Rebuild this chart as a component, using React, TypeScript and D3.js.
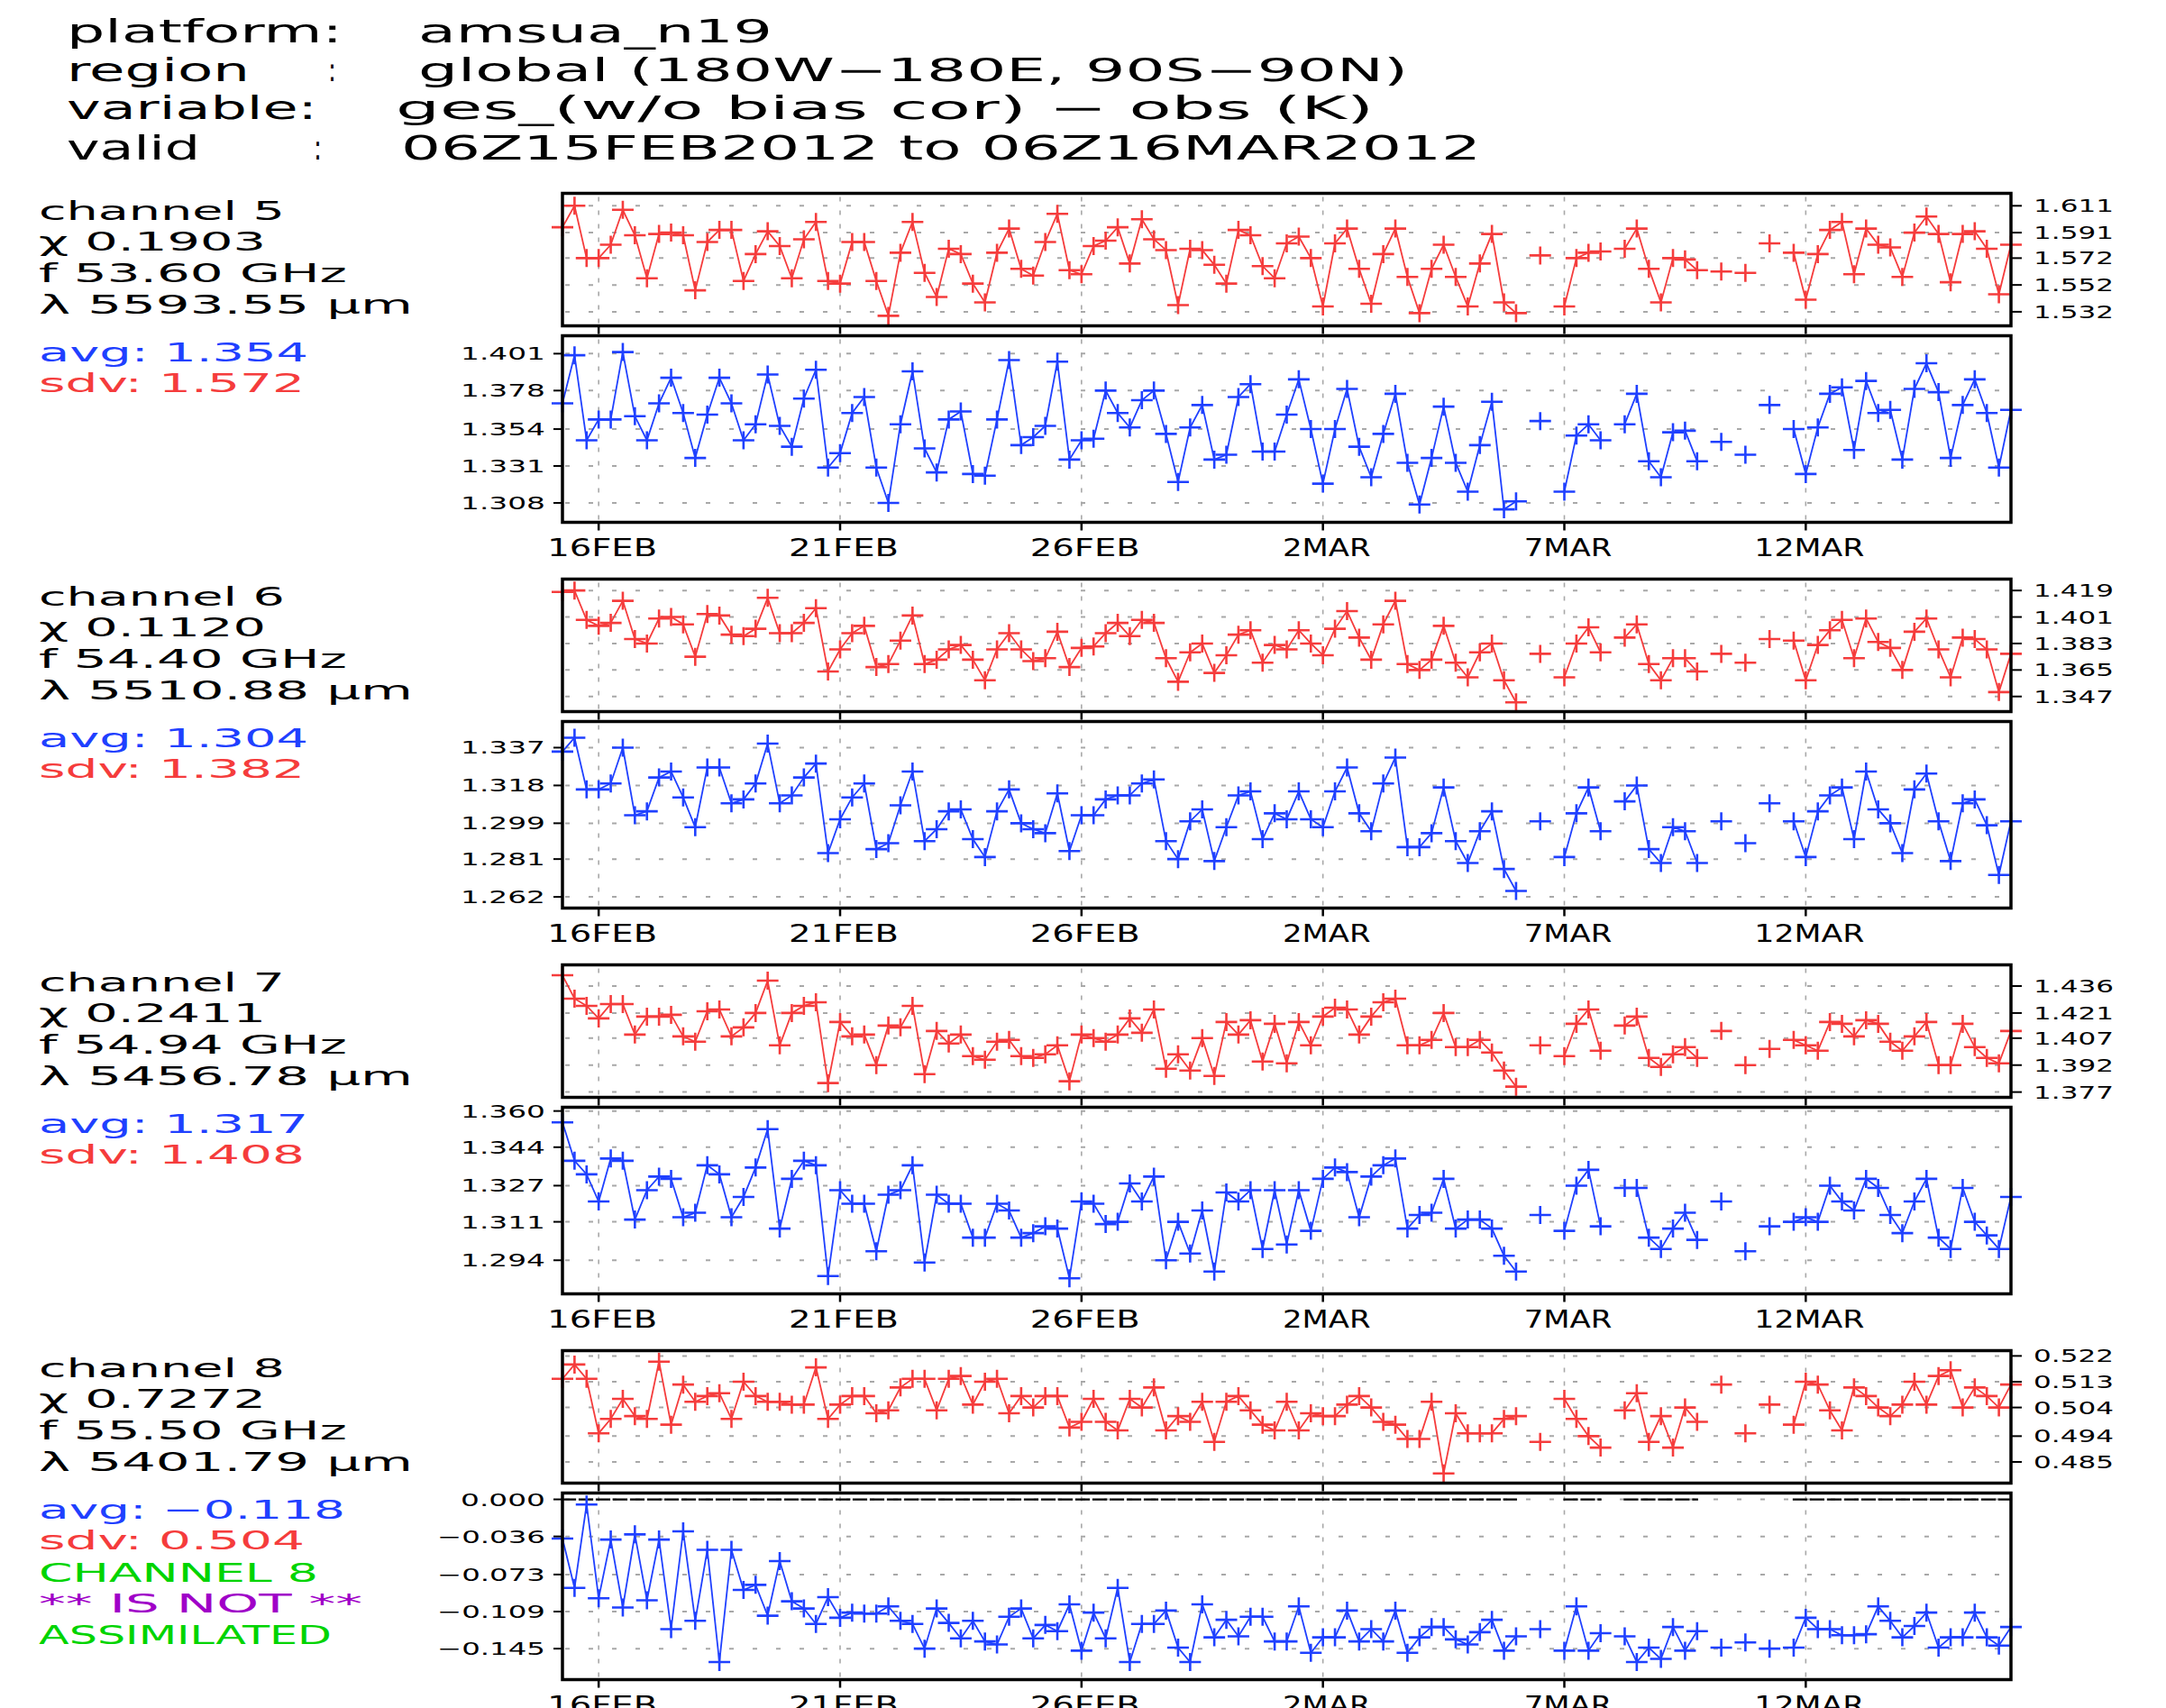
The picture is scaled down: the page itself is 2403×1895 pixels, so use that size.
import React from 'react';
import * as d3 from 'd3';

// 6-hourly cycles, 06Z15FEB2012 .. 06Z16MAR2012
const startTime = new Date(Date.UTC(2012, 1, 15, 6));
const endTime = new Date(Date.UTC(2012, 2, 16, 6));
const cycleHours = 6;

const dateTicks = [
  new Date(Date.UTC(2012, 1, 16)),
  new Date(Date.UTC(2012, 1, 21)),
  new Date(Date.UTC(2012, 1, 26)),
  new Date(Date.UTC(2012, 2, 2)),
  new Date(Date.UTC(2012, 2, 7)),
  new Date(Date.UTC(2012, 2, 12)),
];
const dateLabels = ['16FEB', '21FEB', '26FEB', '2MAR', '7MAR', '12MAR'];

const channelNames = ['channel 5', 'channel 6', 'channel 7', 'channel 8'];
const chiValues = ['0.1903', '0.1120', '0.2411', '0.7272'];
const freqValues = ['53.60', '54.40', '54.94', '55.50'];
const waveValues = ['5593.55', '5510.88', '5456.78', '5401.79'];
const avgLabels = ['1.354', '1.304', '1.317', '\u22120.118'];
const sdvLabels = ['1.572', '1.382', '1.408', '0.504'];

const ch5SdvTicks = [1.611, 1.591, 1.572, 1.552, 1.532];
const ch5AvgTicks = [1.401, 1.378, 1.354, 1.331, 1.308];
const ch6SdvTicks = [1.419, 1.401, 1.383, 1.365, 1.347];
const ch6AvgTicks = [1.337, 1.318, 1.299, 1.281, 1.262];
const ch7SdvTicks = [1.436, 1.421, 1.407, 1.392, 1.377];
const ch7AvgTicks = [1.36, 1.344, 1.327, 1.311, 1.294];
const ch8SdvTicks = [0.522, 0.513, 0.504, 0.494, 0.485];
const ch8AvgTicks = [0.0, -0.036, -0.073, -0.109, -0.145];

const ch5Sdv = [
  1.595, 1.611, 1.572, 1.572, 1.582, 1.608, 1.589, 1.557, 1.590, 1.591,
  1.589, 1.548, 1.584, 1.593, 1.593, 1.555, 1.575, 1.592, 1.581, 1.557,
  1.586, 1.599, 1.555, 1.553, 1.584, 1.584, 1.555, 1.529, 1.576, 1.599,
  1.561, 1.543, 1.579, 1.575, 1.553, 1.539, 1.576, 1.594, 1.564, 1.559,
  1.584, 1.605, 1.563, 1.560, 1.581, 1.585, 1.595, 1.568, 1.601, 1.586,
  1.578, 1.537, 1.579, 1.578, 1.567, 1.553, 1.593, 1.589, 1.566, 1.557,
  1.583, 1.588, 1.572, 1.536, 1.583, 1.594, 1.564, 1.538, 1.575, 1.594,
  1.558, 1.531, 1.564, 1.582, 1.558, 1.536, 1.568, 1.590, 1.539, 1.531,
  null, 1.574, null, 1.536, 1.572, 1.576, 1.577, null, 1.579, 1.594,
  1.564, 1.539, 1.572, 1.571, 1.563, null, 1.562, null, 1.561, null,
  1.583, null, 1.576, 1.541, 1.575, 1.593, 1.599, 1.560, 1.594, 1.582,
  1.580, 1.558, 1.591, 1.603, 1.590, 1.554, 1.590, 1.592, 1.579, 1.545,
  1.582,
];
const ch5Avg = [
  1.370, 1.400, 1.347, 1.360, 1.360, 1.402, 1.362, 1.347, 1.370, 1.386,
  1.364, 1.336, 1.363, 1.386, 1.370, 1.347, 1.357, 1.388, 1.356, 1.343,
  1.373, 1.391, 1.330, 1.339, 1.364, 1.374, 1.330, 1.308, 1.357, 1.390,
  1.342, 1.327, 1.360, 1.365, 1.326, 1.325, 1.360, 1.397, 1.344, 1.349,
  1.356, 1.396, 1.335, 1.347, 1.348, 1.378, 1.364, 1.355, 1.372, 1.378,
  1.351, 1.321, 1.355, 1.369, 1.335, 1.338, 1.374, 1.382, 1.340, 1.340,
  1.363, 1.385, 1.354, 1.320, 1.354, 1.379, 1.343, 1.324, 1.351, 1.376,
  1.333, 1.307, 1.336, 1.368, 1.333, 1.315, 1.344, 1.371, 1.304, 1.309,
  null, 1.359, null, 1.315, 1.350, 1.357, 1.347, null, 1.357, 1.376,
  1.334, 1.324, 1.352, 1.353, 1.334, null, 1.346, null, 1.338, null,
  1.369, null, 1.354, 1.326, 1.355, 1.376, 1.380, 1.341, 1.384, 1.364,
  1.366, 1.335, 1.379, 1.395, 1.377, 1.336, 1.369, 1.385, 1.364, 1.330,
  1.366,
];
const ch6Sdv = [
  1.418, 1.419, 1.399, 1.395, 1.397, 1.412, 1.386, 1.383, 1.400, 1.401,
  1.396, 1.374, 1.403, 1.402, 1.389, 1.388, 1.393, 1.414, 1.390, 1.390,
  1.397, 1.407, 1.364, 1.379, 1.390, 1.395, 1.367, 1.369, 1.385, 1.402,
  1.369, 1.372, 1.379, 1.382, 1.372, 1.358, 1.379, 1.390, 1.379, 1.371,
  1.373, 1.391, 1.367, 1.380, 1.381, 1.390, 1.397, 1.388, 1.399, 1.397,
  1.373, 1.357, 1.377, 1.383, 1.363, 1.375, 1.389, 1.392, 1.370, 1.382,
  1.379, 1.392, 1.383, 1.375, 1.393, 1.405, 1.387, 1.372, 1.396, 1.412,
  1.369, 1.365, 1.372, 1.395, 1.370, 1.360, 1.377, 1.383, 1.358, 1.343,
  null, 1.376, null, 1.360, 1.383, 1.394, 1.377, null, 1.387, 1.396,
  1.369, 1.358, 1.373, 1.373, 1.364, null, 1.376, null, 1.370, null,
  1.386, null, 1.385, 1.358, 1.382, 1.392, 1.399, 1.373, 1.400, 1.384,
  1.380, 1.365, 1.391, 1.400, 1.379, 1.360, 1.387, 1.386, 1.379, 1.350,
  1.376,
];
const ch6Avg = [
  1.335, 1.342, 1.316, 1.316, 1.319, 1.337, 1.303, 1.305, 1.322, 1.325,
  1.312, 1.297, 1.327, 1.327, 1.309, 1.311, 1.319, 1.339, 1.309, 1.313,
  1.322, 1.329, 1.284, 1.301, 1.312, 1.319, 1.286, 1.289, 1.308, 1.325,
  1.290, 1.296, 1.305, 1.306, 1.291, 1.282, 1.305, 1.316, 1.299, 1.296,
  1.294, 1.314, 1.285, 1.303, 1.303, 1.311, 1.313, 1.313, 1.319, 1.321,
  1.290, 1.281, 1.300, 1.306, 1.280, 1.297, 1.313, 1.315, 1.291, 1.304,
  1.301, 1.315, 1.301, 1.297, 1.315, 1.327, 1.304, 1.295, 1.319, 1.332,
  1.287, 1.287, 1.294, 1.317, 1.290, 1.279, 1.295, 1.305, 1.276, 1.265,
  null, 1.300, null, 1.282, 1.304, 1.317, 1.295, null, 1.310, 1.318,
  1.286, 1.279, 1.297, 1.295, 1.279, null, 1.300, null, 1.289, null,
  1.309, null, 1.300, 1.282, 1.305, 1.313, 1.317, 1.291, 1.325, 1.306,
  1.299, 1.284, 1.316, 1.324, 1.300, 1.280, 1.309, 1.311, 1.298, 1.273,
  1.300,
];
const ch7Sdv = [
  1.442, 1.429, 1.425, 1.418, 1.426, 1.426, 1.409, 1.419, 1.419, 1.420,
  1.408, 1.405, 1.422, 1.423, 1.408, 1.413, 1.421, 1.439, 1.403, 1.421,
  1.425, 1.427, 1.382, 1.416, 1.408, 1.409, 1.392, 1.414, 1.413, 1.425,
  1.387, 1.411, 1.404, 1.409, 1.397, 1.395, 1.405, 1.406, 1.397, 1.396,
  1.398, 1.403, 1.383, 1.409, 1.407, 1.405, 1.409, 1.418, 1.410, 1.423,
  1.390, 1.398, 1.389, 1.407, 1.386, 1.416, 1.409, 1.417, 1.394, 1.415,
  1.393, 1.416, 1.403, 1.419, 1.424, 1.423, 1.409, 1.419, 1.427, 1.429,
  1.403, 1.403, 1.406, 1.421, 1.402, 1.402, 1.406, 1.399, 1.389, 1.380,
  null, 1.403, null, 1.397, 1.415, 1.423, 1.400, null, 1.414, 1.419,
  1.396, 1.391, 1.398, 1.402, 1.396, null, 1.411, null, 1.392, null,
  1.401, null, 1.406, 1.403, 1.400, 1.416, 1.415, 1.408, 1.417, 1.415,
  1.405, 1.400, 1.408, 1.416, 1.392, 1.392, 1.415, 1.402, 1.396, 1.393,
  1.411,
];
const ch7Avg = [
  1.355, 1.338, 1.332, 1.320, 1.339, 1.338, 1.312, 1.325, 1.331, 1.330,
  1.313, 1.315, 1.336, 1.332, 1.313, 1.322, 1.335, 1.352, 1.308, 1.330,
  1.338, 1.336, 1.287, 1.325, 1.319, 1.319, 1.298, 1.323, 1.325, 1.336,
  1.293, 1.323, 1.319, 1.319, 1.304, 1.304, 1.319, 1.316, 1.304, 1.306,
  1.309, 1.308, 1.286, 1.320, 1.319, 1.310, 1.311, 1.328, 1.320, 1.331,
  1.294, 1.311, 1.297, 1.316, 1.289, 1.324, 1.320, 1.325, 1.299, 1.325,
  1.301, 1.325, 1.307, 1.330, 1.335, 1.333, 1.313, 1.331, 1.336, 1.339,
  1.308, 1.314, 1.315, 1.330, 1.308, 1.312, 1.312, 1.308, 1.296, 1.289,
  null, 1.314, null, 1.307, 1.327, 1.334, 1.309, null, 1.326, 1.326,
  1.304, 1.299, 1.308, 1.315, 1.303, null, 1.320, null, 1.298, null,
  1.309, null, 1.311, 1.313, 1.311, 1.327, 1.320, 1.316, 1.330, 1.326,
  1.314, 1.306, 1.320, 1.330, 1.304, 1.299, 1.326, 1.311, 1.305, 1.299,
  1.322,
];
const ch8Sdv = [
  0.514, 0.519, 0.514, 0.495, 0.500, 0.507, 0.501, 0.500, 0.520, 0.498,
  0.512, 0.506, 0.508, 0.509, 0.500, 0.513, 0.508, 0.506, 0.506, 0.505,
  0.505, 0.518, 0.500, 0.505, 0.508, 0.508, 0.502, 0.503, 0.511, 0.514,
  0.514, 0.503, 0.514, 0.515, 0.505, 0.513, 0.514, 0.502, 0.508, 0.504,
  0.508, 0.508, 0.497, 0.499, 0.507, 0.499, 0.496, 0.507, 0.504, 0.511,
  0.496, 0.501, 0.499, 0.506, 0.492, 0.506, 0.508, 0.503, 0.498, 0.496,
  0.506, 0.496, 0.502, 0.501, 0.501, 0.505, 0.508, 0.504, 0.499, 0.498,
  0.493, 0.493, 0.506, 0.481, 0.502, 0.495, 0.495, 0.495, 0.500, 0.501,
  null, 0.492, null, 0.507, 0.500, 0.494, 0.490, null, 0.503, 0.509,
  0.492, 0.501, 0.490, 0.504, 0.499, null, 0.512, null, 0.495, null,
  0.505, null, 0.498, 0.513, 0.512, 0.503, 0.496, 0.511, 0.508, 0.504,
  0.501, 0.505, 0.513, 0.505, 0.515, 0.517, 0.504, 0.511, 0.508, 0.504,
  0.512,
];
const ch8Avg = [
  -0.038, -0.086, -0.005, -0.096, -0.039, -0.105, -0.034, -0.098, -0.039, -0.126,
  -0.031, -0.118, -0.049, -0.158, -0.049, -0.088, -0.083, -0.113, -0.060, -0.099,
  -0.106, -0.121, -0.095, -0.115, -0.110, -0.111, -0.111, -0.104, -0.118, -0.121,
  -0.145, -0.106, -0.120, -0.135, -0.118, -0.138, -0.141, -0.114, -0.106, -0.135,
  -0.122, -0.128, -0.102, -0.147, -0.110, -0.135, -0.086, -0.158, -0.121, -0.121,
  -0.108, -0.144, -0.158, -0.102, -0.134, -0.117, -0.133, -0.114, -0.114, -0.138,
  -0.138, -0.104, -0.149, -0.134, -0.134, -0.108, -0.138, -0.126, -0.138, -0.108,
  -0.149, -0.134, -0.124, -0.124, -0.136, -0.141, -0.129, -0.117, -0.147, -0.133,
  null, -0.126, null, -0.147, -0.104, -0.147, -0.130, null, -0.133, -0.158,
  -0.144, -0.155, -0.124, -0.147, -0.128, null, -0.144, null, -0.139, null,
  -0.145, null, -0.144, -0.115, -0.126, -0.126, -0.132, -0.132, -0.131, -0.104,
  -0.118, -0.134, -0.123, -0.110, -0.144, -0.134, -0.134, -0.110, -0.134, -0.142,
  -0.124,
];

const sdvSeries = [ch5Sdv, ch6Sdv, ch7Sdv, ch8Sdv];
const avgSeries = [ch5Avg, ch6Avg, ch7Avg, ch8Avg];
const sdvTicks = [ch5SdvTicks, ch6SdvTicks, ch7SdvTicks, ch8SdvTicks];
const avgTicks = [ch5AvgTicks, ch6AvgTicks, ch7AvgTicks, ch8AvgTicks];

// layout
const W = 2403;
const H = 1895;
const PLOT_L = 624;
const PLOT_R = 2231;
const BLOCK_TOP = 214.5;
const BLOCK_PITCH = 428;
const SDV_H = 147;
const AVG_OFF = 158;
const AVG_H = 207;
const sdvTopGap = [0.47, 0.43, 0.8, 0.2];
const avgTopGap = [0.48, 0.7, 0.1, 0.17];

const RED = '#f53c3c';
const BLUE = '#1f40ff';
const GREEN = '#00d400';
const PURPLE = '#a000c8';
const GRID = '#a8a8a8';
const FONT = 'DejaVu Sans';

const x = d3.scaleUtc().domain([startTime, endTime]).range([PLOT_L, PLOT_R]);
const fmt = (v: number) => d3.format('.3f')(v).replace('-', '\u2212');

type Pt = { t: Date; v: number | null };

function Label({ x, y, w, size, fill = '#000', anchor = 'start', children }: any) {
  return (
    <text
      x={x}
      y={y}
      fontFamily={FONT}
      fontSize={size}
      fill={fill}
      textAnchor={anchor}
      textLength={w}
      lengthAdjust="spacingAndGlyphs"
    >
      {children}
    </text>
  );
}

function Panel({ values, ticks, topGap, top, h, color, side, zero }: any) {
  const step = (ticks[0] - ticks[4]) / 4;
  const y = d3
    .scaleLinear()
    .domain([ticks[4] - (1 - topGap) * step, ticks[0] + topGap * step])
    .range([top + h, top]);
  const pts: Pt[] = values.map((v: number | null, i: number) => ({
    t: d3.utcHour.offset(startTime, i * cycleHours),
    v,
  }));
  const line = d3
    .line<Pt>()
    .defined((d) => d.v != null)
    .x((d) => x(d.t))
    .y((d) => y(d.v as number));
  const zeroPts = pts.map((d) => ({ t: d.t, v: d.v == null ? null : 0 }));

  return (
    <g>
      {ticks.map((t: number) => (
        <line key={'h' + t} x1={PLOT_L + 3} x2={PLOT_R} y1={y(t)} y2={y(t)}
          stroke={GRID} strokeWidth={2} strokeDasharray="5 21" />
      ))}
      {dateTicks.map((d) => (
        <line key={'v' + d.getTime()} x1={x(d)} x2={x(d)} y1={top + 4} y2={top + h}
          stroke={GRID} strokeWidth={1.6} strokeDasharray="5 10" />
      ))}
      {zero && (
        <path d={line(zeroPts) || ''} fill="none" stroke="#000" strokeWidth={2.2}
          strokeDasharray="14 5" strokeLinecap="square" />
      )}
      <path d={line(pts) || ''} fill="none" stroke={color} strokeWidth={1.8} />
      {pts.filter((d) => d.v != null).map((d, i) => (
        <path key={i} transform={`translate(${x(d.t)},${y(d.v as number)})`}
          d="M-12,0H12M0,-10V10" stroke={color} strokeWidth={2.6} fill="none" />
      ))}
      <rect x={PLOT_L} y={top} width={PLOT_R - PLOT_L} height={h} fill="none"
        stroke="#000" strokeWidth={3.5} />
      {dateTicks.map((d) => (
        <line key={'xt' + d.getTime()} x1={x(d)} x2={x(d)} y1={top + h} y2={top + h + 9}
          stroke="#000" strokeWidth={2.5} />
      ))}
      {ticks.map((t: number) => {
        const label = fmt(t);
        const yy = y(t);
        if (side === 'right') {
          return (
            <g key={'yt' + t}>
              <line x1={PLOT_R} x2={PLOT_R + 12} y1={yy} y2={yy} stroke="#000" strokeWidth={2} />
              <Label x={PLOT_R + 25} y={yy + 7} w={label.length * 17.8} size={20}>{label}</Label>
            </g>
          );
        }
        const w = label.replace('\u2212', '').length * 18.8 + (label.includes('\u2212') ? 26 : 0);
        return (
          <g key={'yt' + t}>
            <line x1={PLOT_L - 10} x2={PLOT_L} y1={yy} y2={yy} stroke="#000" strokeWidth={2} />
            <Label x={PLOT_L - 19} y={yy + 7} w={w} size={20} anchor="end">{label}</Label>
          </g>
        );
      })}
    </g>
  );
}

const headerLines: [string, number, number, number, number][] = [
  ['platform:', 74, 47, 306, 35],
  ['amsua_n19', 464, 47, 393, 35],
  ['region', 74, 90, 203, 35],
  [':', 364, 90, 9, 35],
  ['global (180W\u2212180E, 90S\u221290N)', 464, 90, 1098, 35],
  ['variable:', 74, 132, 278, 35],
  ['ges_(w/o bias cor) \u2212 obs (K)', 439, 132, 1085, 35],
  ['valid', 74, 177, 148, 38],
  [':', 348, 177, 9, 38],
  ['06Z15FEB2012 to 06Z16MAR2012', 445, 177, 1198, 38],
];

export default function App() {
  return (
    <svg width={W} height={H} viewBox={`0 0 ${W} ${H}`}
      style={{ position: 'absolute', left: 0, top: 0, background: '#fff' }}>
      <rect x={0} y={0} width={W} height={H} fill="#fff" />
      {headerLines.map(([t, hx, hy, w, s], i) => (
        <Label key={i} x={hx} y={hy} w={w} size={s}>{t}</Label>
      ))}
      {channelNames.map((name, c) => {
        const top = BLOCK_TOP + c * BLOCK_PITCH;
        const avgTop = top + AVG_OFF;
        const avgText = 'avg: ' + avgLabels[c];
        return (
          <g key={name}>
            <Label x={43} y={top + 29} w={273} size={29}>{name}</Label>
            <Label x={43} y={top + 63} w={252} size={29}>{'\u03c7 ' + chiValues[c]}</Label>
            <Label x={43} y={top + 98} w={342} size={29}>{'f ' + freqValues[c] + ' GHz'}</Label>
            <Label x={43} y={top + 133} w={415} size={29}>{'\u03bb ' + waveValues[c] + ' \u03bcm'}</Label>
            <Label x={43} y={top + 186} w={avgText.length > 10 ? 340 : 299} size={29} fill={BLUE}>{avgText}</Label>
            <Label x={43} y={top + 220} w={295} size={29} fill={RED}>{'sdv: ' + sdvLabels[c]}</Label>
            {c === 3 && (
              <>
                <Label x={43} y={top + 256} w={310} size={29} fill={GREEN}>CHANNEL 8</Label>
                <Label x={43} y={top + 290} w={359} size={29} fill={PURPLE}>** IS NOT **</Label>
                <Label x={43} y={top + 325} w={325} size={29} fill={GREEN}>ASSIMILATED</Label>
              </>
            )}
            <Panel values={sdvSeries[c]} ticks={sdvTicks[c]} topGap={sdvTopGap[c]}
              top={top} h={SDV_H} color={RED} side="right" />
            <Panel values={avgSeries[c]} ticks={avgTicks[c]} topGap={avgTopGap[c]}
              top={avgTop} h={AVG_H} color={BLUE} side="left" zero={c === 3} />
            {dateTicks.map((d, k) => (
              <Label key={k} x={x(d) + 4} y={avgTop + AVG_H + 37} w={dateLabels[k].length * 24.4}
                size={27} anchor="middle">{dateLabels[k]}</Label>
            ))}
          </g>
        );
      })}
    </svg>
  );
}
